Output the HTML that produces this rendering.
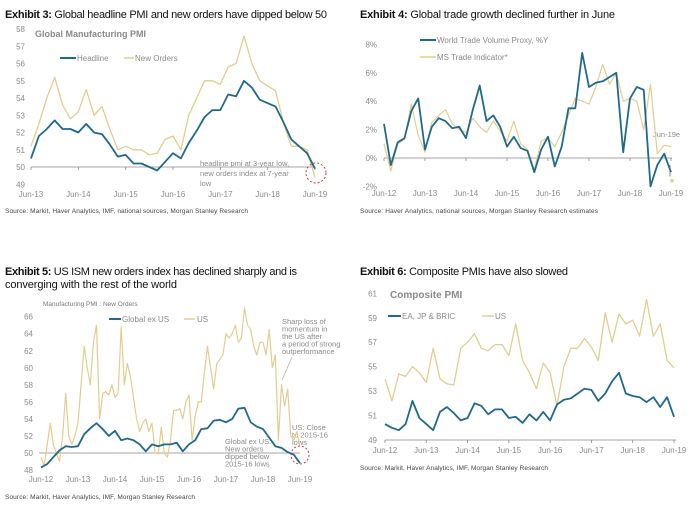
<!DOCTYPE html>
<html><head><meta charset="utf-8"><style>
body{margin:0;background:#fff}
svg{display:block;font-family:"Liberation Sans",sans-serif}
.t{font-size:11px;fill:#111}
.tk{font-size:8px;fill:#8a8a8a}
.lg{font-size:8px;fill:#8a8a8a}
.src{font-size:6.5px;fill:#444}
.an{font-size:7.5px;fill:#8a8a8a}
</style></head><body>
<svg id="c" width="700" height="505" viewBox="0 0 700 505">
<!-- Titles -->
<text class="t" x="5" y="18" textLength="322"><tspan font-weight="bold">Exhibit 3:</tspan> Global headline PMI and new orders have dipped below 50</text>
<text class="t" x="360" y="18" textLength="255"><tspan font-weight="bold">Exhibit 4:</tspan> Global trade growth declined further in June</text>
<text class="t" x="5" y="275" textLength="292"><tspan font-weight="bold">Exhibit 5:</tspan> US ISM new orders index has declined sharply and is</text>
<text class="t" x="5" y="288" textLength="172">converging with the rest of the world</text>
<text class="t" x="360" y="275" textLength="208"><tspan font-weight="bold">Exhibit 6:</tspan> Composite PMIs have also slowed</text>
<!-- Sources -->
<text class="src" x="5" y="213" textLength="243">Source: Markit, Haver Analytics, IMF, national sources, Morgan Stanley Research</text>
<text class="src" x="360" y="213" textLength="238">Source: Haver Analytics, national sources, Morgan Stanley Research estimates</text>
<text class="src" x="5" y="499" textLength="190">Source: Markit, Haver Analytics, IMF, Morgan Stanley Research</text>
<text class="src" x="360" y="470" textLength="188">Source: Markit, Haver Analytics, IMF, Morgan Stanley Research</text>
<!-- Panel subtitles / legends -->
<text x="35" y="37" font-size="9" font-weight="bold" fill="#8a8a8a">Global Manufacturing PMI</text>
<line x1="60" y1="58" x2="76" y2="58" stroke="#1f6a8a" stroke-width="2"/>
<text class="lg" x="77" y="61">Headline</text>
<line x1="124" y1="58" x2="134" y2="58" stroke="#e3cd8e" stroke-width="1.5"/>
<text class="lg" x="135" y="61">New Orders</text>

<line x1="420" y1="40" x2="436" y2="40" stroke="#1f6a8a" stroke-width="2"/>
<text class="lg" x="437" y="43" fill="#9a9a9a">World Trade Volume Proxy, %Y</text>
<line x1="420" y1="57" x2="436" y2="57" stroke="#e3cd8e" stroke-width="1.5"/>
<text class="lg" x="437" y="60">MS Trade Indicator*</text>
<text class="an" x="653" y="137">Jun-19e</text>

<text x="43" y="306" font-size="6.5" fill="#777">Manufacturing PMI : New Orders</text>
<line x1="109" y1="319" x2="121" y2="319" stroke="#1f6a8a" stroke-width="2"/>
<text class="lg" x="122" y="322">Global ex US</text>
<line x1="184" y1="319" x2="195" y2="319" stroke="#e3cd8e" stroke-width="1.5"/>
<text class="lg" x="197" y="322">US</text>
<g class="an" font-size="7">
<text x="282" y="324">Sharp loss of</text><text x="282" y="331.5">momentum in</text><text x="282" y="339">the US after</text><text x="282" y="346.5">a period of strong</text><text x="282" y="354">outperformance</text></g>
<line x1="292" y1="357" x2="282" y2="380" stroke="#aaa" stroke-width="0.7"/>
<g class="an" font-size="7">
<text x="292" y="430">US: Close</text><text x="292" y="437.5">to 2015-16</text><text x="292" y="445">lows</text></g>
<g class="an" font-size="7">
<text x="225" y="444">Global ex US:</text><text x="225" y="451.5">New orders</text><text x="225" y="459">dipped below</text><text x="225" y="466.5">2015-16 lows</text></g>

<text x="390" y="298" font-size="10" font-weight="bold" fill="#8a8a8a">Composite PMI</text>
<line x1="388" y1="316" x2="401" y2="316" stroke="#1f6a8a" stroke-width="2"/>
<text class="lg" x="402" y="319">EA, JP &amp; BRIC</text>
<line x1="482" y1="316" x2="494" y2="316" stroke="#e3cd8e" stroke-width="1.5"/>
<text class="lg" x="495" y="319">US</text>

<g class="an">
<text x="200" y="166">headline pmi at 3-year low,</text><text x="200" y="176">new orders index at 7-year</text><text x="200" y="186">low</text></g>
</svg>
<script>
// ---- Exhibit 3 data (bi-monthly from Jun-13) ----
const p3Headline=[50.5,51.8,52.2,52.7,52.2,52.2,52.0,52.5,52.0,51.9,51.3,50.6,50.7,50.2,50.2,50.0,49.8,50.3,50.8,50.5,51.4,52.1,52.9,53.3,53.3,54.2,54.1,55.0,54.6,53.9,53.7,53.5,52.6,51.6,51.2,50.8,49.9];
const p3NewOrders=[51.2,52.5,54.0,55.2,53.6,52.8,53.2,54.5,53.0,53.5,52.2,51.0,51.2,51.0,51.0,50.7,50.8,51.6,51.8,51.0,53.0,54.0,55.0,55.0,54.8,55.8,56.0,57.6,56.0,55.0,54.7,54.4,52.6,51.2,51.2,51.0,49.4];
const p3YTicks=[49,50,51,52,53,54,55,56,57,58];
const p3XLabels=["Jun-13","Jun-14","Jun-15","Jun-16","Jun-17","Jun-18","Jun-19"];
// ---- Exhibit 4 data (bi-monthly from Jun-12, %) ----
const p4World=[2.4,-0.5,1.1,1.4,3.3,4.2,0.6,2.2,2.8,2.6,2.1,2.2,1.4,3.4,5.1,2.6,3.0,2.2,0.8,1.5,0.7,0.5,-1.0,0.6,1.5,-0.6,0.8,3.5,3.5,7.4,5.0,5.3,5.4,5.7,6.0,0.4,4.2,5.0,4.8,-2.0,-0.5,0.3,-1.0];
const p4MS=[1.0,-0.9,1.0,1.3,3.8,1.6,0.4,2.5,3.0,3.4,2.4,2.0,1.8,2.8,2.2,1.8,2.6,1.9,1.2,2.6,1.0,0.6,-0.8,1.2,1.4,0.8,1.8,3.0,4.2,4.0,3.8,5.0,6.6,5.2,6.0,4.0,4.2,4.0,2.0,5.2,0.3,0.9,0.8];
const p4MSLatest=[-1.6];
const p4YTicks=[-2,0,2,4,6,8];
const p4XLabels=["Jun-12","Jun-13","Jun-14","Jun-15","Jun-16","Jun-17","Jun-18","Jun-19"];
// ---- Exhibit 5 data ----
const p5GlobalExUS=[48.3,48.7,49.5,50.3,50.8,50.7,50.8,52.2,52.9,53.5,52.8,52.0,52.6,51.5,51.7,51.5,51.0,50.2,51.0,50.8,51.0,51.0,51.2,50.2,51.0,51.5,52.8,52.9,53.8,53.9,53.6,54.0,55.2,55.3,53.6,53.1,52.8,51.8,50.8,50.6,50.1,49.8,48.8];
const p5US=[49.5,48.5,51.0,53.5,51.0,50.0,49.0,52.0,57.0,52.0,51.0,52.0,53.5,58.0,62.5,60.0,58.0,63.0,65.0,54.0,57.0,57.2,56.8,58.0,56.5,57.0,64.8,58.0,60.5,59.0,56.5,54.0,52.5,53.5,54.0,52.5,53.5,50.0,49.9,53.0,50.0,49.5,51.5,55.0,55.0,55.2,54.0,56.0,56.8,51.5,54.3,56.0,56.0,59.5,62.5,60.0,57.5,60.5,61.0,61.5,64.0,63.5,64.0,65.0,63.0,63.5,67.0,65.0,64.5,62.5,61.5,63.0,63.0,61.5,64.5,60.0,61.5,51.5,58.0,55.5,57.5,52.0,51.5,52.5,50.8];
const p5YTicks=[48,50,52,54,56,58,60,62,64,66];
const p5XLabels=["Jun-12","Jun-13","Jun-14","Jun-15","Jun-16","Jun-17","Jun-18","Jun-19"];
// ---- Exhibit 6 data (bi-monthly from Jun-12) ----
const p6EA=[50.3,50.0,49.8,50.3,52.2,50.8,50.3,49.8,51.3,51.7,51.2,50.6,50.8,52.0,51.8,51.1,51.5,51.5,50.8,50.9,50.4,51.1,50.6,51.3,50.6,51.9,52.3,52.4,52.8,53.2,53.1,52.2,52.8,53.8,54.5,52.8,52.6,52.5,52.1,52.5,51.7,52.5,50.9];
const p6US=[54.0,52.2,54.4,54.2,55.0,54.5,53.7,56.5,54.0,53.6,53.5,56.5,57.0,57.7,56.5,56.3,56.8,56.8,55.9,58.5,55.5,54.5,53.2,55.3,54.5,51.8,55.0,56.5,56.5,57.3,56.6,55.5,59.4,57.0,59.3,58.5,58.8,57.5,60.5,57.5,58.5,55.5,54.9];
const p6YTicks=[49,51,53,55,57,59,61];
const p6XLabels=["Jun-12","Jun-13","Jun-14","Jun-15","Jun-16","Jun-17","Jun-18","Jun-19"];

const NS="http://www.w3.org/2000/svg";
const svg=document.getElementById('c');
function mk(tag,attrs){const e=document.createElementNS(NS,tag);for(const k in attrs)e.setAttribute(k,attrs[k]);svg.appendChild(e);return e;}
function lin(d0,d1,r0,r1){return v=>r0+(v-d0)*(r1-r0)/(d1-d0);}
function series(arr,totalMonths,xm,ys,color,w,name){
  const step=totalMonths/(arr.length-1);
  const pts=arr.map((v,i)=>xm(i*step).toFixed(1)+","+ys(v).toFixed(1)).join(" ");
  const p=mk('polyline',{points:pts,fill:'none',stroke:color,'stroke-width':w,'stroke-linejoin':'round'});
  
  
}
function yTicks(ticks,ys,x,fmt,name){
  ticks.forEach(t=>{const e=mk('text',{x:x,y:ys(t)+3,'text-anchor':'end',class:'tk'});e.textContent=fmt(t);
  
  });
}
function xLabels(labels,xm,y,name){
  labels.forEach((l,i)=>{const e=mk('text',{x:xm(i*12),y:y,'text-anchor':'middle',class:'tk'});e.textContent=l;
  
  });
}
function baseLine(y,x0,x1,xm,n,name){
  const l=mk('line',{x1:x0,y1:y,x2:x1,y2:y,stroke:'#888','stroke-width':0.8});
  
  
  for(let i=0;i<n;i++){const t=mk('line',{x1:xm(i*12),y1:y,x2:xm(i*12),y2:y+3,stroke:'#888','stroke-width':0.8});
  
  }
}
const BLUE='#1f6a8a',TAN='#e3cd8e';
// Exhibit 3
{const xm=lin(0,72,31,315),ys=lin(50,58,167,29);
 yTicks(p3YTicks,ys,25,v=>v,'exhibit3-y-tick');
 baseLine(ys(50),31,315,xm,7,'exhibit3-50-line');
 xLabels(p3XLabels,xm,197,'exhibit3-x-label');
 series(p3NewOrders,72,xm,ys,TAN,1.3,'exhibit3-new-orders-line');
 series(p3Headline,72,xm,ys,BLUE,1.8,'exhibit3-headline-line');
 const c=mk('circle',{cx:316,cy:173,r:10,fill:'none',stroke:'#d33','stroke-width':1,'stroke-dasharray':'2,2'});
 
 }
// Exhibit 4
{const xm=lin(0,84,384,671),ys=lin(0,8,158,44.4);
 yTicks(p4YTicks,ys,377,v=>v+'%','exhibit4-y-tick');
 baseLine(ys(0),384,672,xm,8,'exhibit4-zero-line');
 xLabels(p4XLabels,xm,196,'exhibit4-x-label');
 series(p4MS,84,xm,ys,TAN,1.2,'exhibit4-ms-trade-line');
 series(p4World,84,xm,ys,BLUE,1.8,'exhibit4-world-trade-line');
 const d=mk('circle',{cx:xm(84)+1,cy:ys(p4MSLatest[0]),r:1.8,fill:TAN});
 
 
 const a=mk('line',{x1:xm(84)-1,y1:ys(-0.5),x2:xm(84)-1,y2:ys(-1.3),stroke:'#666','stroke-width':0.8});
 
 }
// Exhibit 5
{const xm=lin(0,84,41,300),ys=lin(48,66,470,316.7);
 yTicks(p5YTicks,ys,33,v=>v,'exhibit5-y-tick');
 const l=mk('line',{x1:39,y1:ys(50),x2:300,y2:ys(50),stroke:'#888','stroke-width':0.8});
 
 
 xLabels(p5XLabels,xm,482,'exhibit5-x-label');
 series(p5US,84,xm,ys,TAN,1.2,'exhibit5-us-line');
 series(p5GlobalExUS,84,xm,ys,BLUE,1.8,'exhibit5-global-ex-us-line');
 const c=mk('circle',{cx:300,cy:455,r:9,fill:'none',stroke:'#d33','stroke-width':1,'stroke-dasharray':'2,2'});
 
 }
// Exhibit 6
{const xm=lin(0,84,385,674),ys=lin(49,61,440,293.3);
 yTicks(p6YTicks,ys,377,v=>v,'exhibit6-y-tick');
 baseLine(ys(49),385,676,xm,8,'exhibit6-x-axis');
 xLabels(p6XLabels,xm,453,'exhibit6-x-label');
 series(p6US,84,xm,ys,TAN,1.3,'exhibit6-us-line');
 series(p6EA,84,xm,ys,BLUE,1.8,'exhibit6-ea-jp-bric-line');}
</script>
</body></html>
